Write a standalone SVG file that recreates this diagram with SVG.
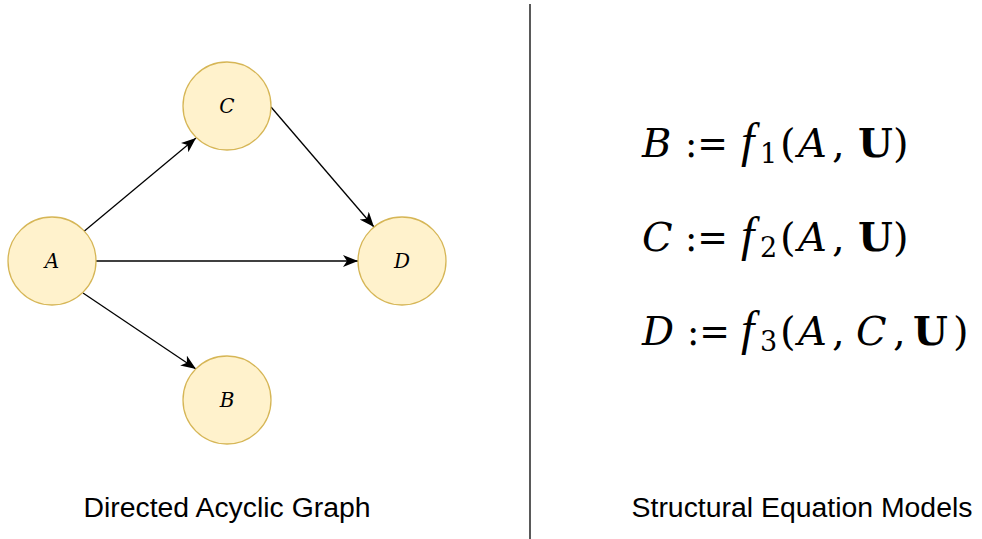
<svg xmlns="http://www.w3.org/2000/svg" width="982" height="539" viewBox="0 0 982 539">
<style>
.node{fill:#fff2cc;stroke:#d6b656;stroke-width:1.3}
.nl{font-family:"DejaVu Serif",serif;font-style:italic;font-size:20px;text-anchor:middle;fill:#000}
.edge{stroke:#000;stroke-width:1.3;fill:none;marker-end:url(#arr)}
.cap{font-family:"Liberation Sans",Arial,sans-serif;font-size:28.4px;text-anchor:middle;fill:#000}
.eq{font-family:"DejaVu Serif",serif;font-size:40px;fill:#000}
.i{font-style:italic}
.b{font-weight:bold}
.s{font-size:27px}
.f{font-family:"Liberation Serif",serif;font-style:italic;font-size:48px}
</style>
<defs>
<marker id="arr" markerUnits="userSpaceOnUse" markerWidth="18" markerHeight="14" refX="15" refY="6" orient="auto" viewBox="0 0 18 14">
<path d="M0,0 L15,6 L0,12 L4,6 Z" fill="#000"/>
</marker>
</defs>
<line x1="530" y1="4" x2="530" y2="539" stroke="#000" stroke-width="1.3"/>
<g id="connectors">
<line class="edge" x1="82" y1="233" x2="196" y2="138"/>
<line class="edge" x1="96" y1="261" x2="358" y2="261"/>
<line class="edge" x1="83" y1="293" x2="196" y2="369"/>
<line class="edge" x1="271" y1="107" x2="374" y2="227"/>
</g>
<g id="node-A"><circle class="node" cx="52" cy="261" r="44"/><text class="nl" x="52" y="268">A</text></g>
<g id="node-C"><circle class="node" cx="227" cy="106" r="44"/><text class="nl" x="227" y="113">C</text></g>
<g id="node-D"><circle class="node" cx="402" cy="261" r="44"/><text class="nl" x="402" y="268">D</text></g>
<g id="node-B"><circle class="node" cx="227" cy="400" r="44"/><text class="nl" x="227" y="407">B</text></g>
<g id="eq1">
<text class="eq" y="157"><tspan class="i" x="642">B</tspan><tspan x="685" textLength="43" lengthAdjust="spacingAndGlyphs">:=</tspan><tspan class="f" x="741">f</tspan><tspan class="s" x="760" dy="6">1</tspan><tspan x="780" dy="-6">(</tspan><tspan class="i" x="798">A</tspan><tspan x="832">,</tspan><tspan class="b" x="858">U</tspan><tspan x="893">)</tspan></text>
</g>
<g id="eq2">
<text class="eq" y="251"><tspan class="i" x="642">C</tspan><tspan x="685" textLength="43" lengthAdjust="spacingAndGlyphs">:=</tspan><tspan class="f" x="741">f</tspan><tspan class="s" x="760" dy="6">2</tspan><tspan x="780" dy="-6">(</tspan><tspan class="i" x="798">A</tspan><tspan x="832">,</tspan><tspan class="b" x="858">U</tspan><tspan x="893">)</tspan></text>
</g>
<g id="eq3">
<text class="eq" y="345"><tspan class="i" x="642">D</tspan><tspan x="687" textLength="43" lengthAdjust="spacingAndGlyphs">:=</tspan><tspan class="f" x="741">f</tspan><tspan class="s" x="760" dy="6">3</tspan><tspan x="780" dy="-6">(</tspan><tspan class="i" x="798">A</tspan><tspan x="832">,</tspan><tspan class="i" x="856">C</tspan><tspan x="893">,</tspan><tspan class="b" x="913">U</tspan><tspan x="953">)</tspan></text>
</g>
<text class="cap" x="227" y="517">Directed Acyclic Graph</text>
<text class="cap" x="802" y="517">Structural Equation Models</text>
</svg>
